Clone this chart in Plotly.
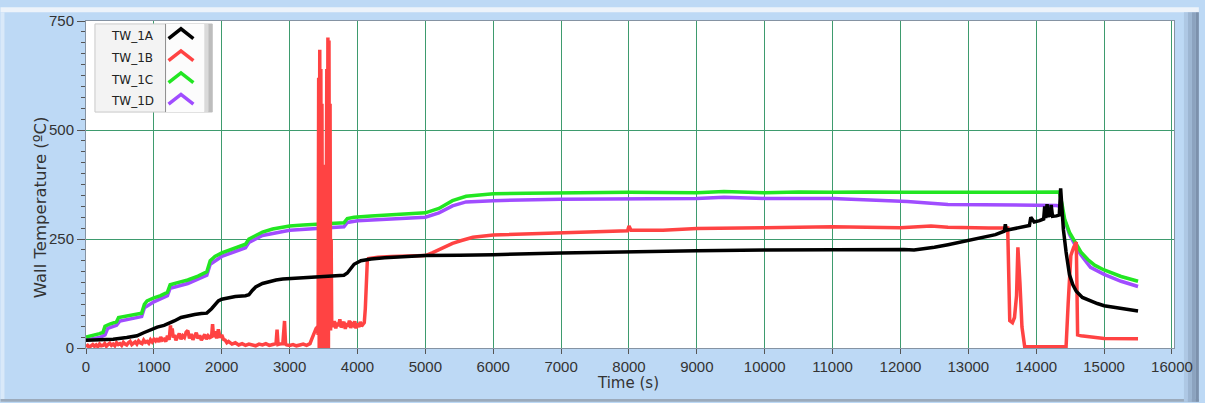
import plotly.graph_objects as go

# ---- wall temperature histories (time in s, temperature in degC) ----
series_names = ["TW_1A", "TW_1B", "TW_1C", "TW_1D"]
series_colors = ["#000000", "#FF4343", "#22E622", "#A04DFF"]

t_1a = [0, 200, 400, 600, 750, 850, 950, 1050, 1150, 1200, 1300, 1400, 1500, 1600, 1700, 1780,
        1850, 1900, 1950, 2000, 2100, 2200, 2350, 2400, 2450, 2500, 2600, 2700, 2800, 2900, 3000,
        3200, 3400, 3600, 3800, 3850, 3900, 3950, 4050, 4200, 4400, 4600, 5000, 5500, 6000, 7000,
        8000, 9000, 10000, 11000, 11900, 12050, 12200, 12320, 12500, 12700, 13000, 13200, 13400,
        13530, 13545, 13560, 13700, 13850, 13900, 13920, 13970, 14050, 14110, 14125, 14140, 14160,
        14175, 14190, 14205, 14220, 14240, 14300, 14340, 14360, 14375, 14400, 14440, 14490, 14540,
        14590, 14680, 14790, 14900, 15000, 15200, 15400, 15500]
tw_1a = [18, 18, 20, 24, 28, 35, 42, 48, 52, 55, 62, 70, 74, 77, 79, 80,
         90, 100, 108, 112, 116, 118, 120, 122, 132, 140, 148, 153, 156, 158, 159,
         161, 162, 164, 167, 172, 182, 192, 200, 204, 207, 209, 212, 213, 214, 218,
         221, 223, 225, 226, 227, 226, 225, 227, 231, 237, 246, 252, 260,
         268, 284, 270, 274, 279, 281, 300, 289, 292, 296, 325, 298, 330,
         300, 322, 301, 328, 302, 303, 305, 366, 330, 272, 220, 168, 145,
         130, 116, 108, 102, 97, 92, 88, 85]

# TW_1B: low noisy start, burst near 3500 s, dry-out after 13600 s
t_1b_start = [0, 25, 50, 75, 100, 125, 150, 175, 200, 225, 250, 275, 300, 325, 350, 375, 400,
              425, 450, 475, 500, 525, 550, 575, 600, 625, 650, 675, 700, 725, 750, 775, 800,
              825, 850, 875, 900, 925, 950, 975, 1000, 1025, 1050, 1075, 1100, 1125, 1150,
              1175, 1200, 1225, 1245, 1255, 1270, 1285, 1300, 1325, 1350, 1375, 1400, 1425,
              1450, 1475, 1500, 1525, 1550, 1575, 1600, 1625, 1650, 1675, 1700, 1725, 1750,
              1775, 1800, 1825, 1850, 1865, 1880, 1900, 1925, 1950, 1975, 2000, 2025, 2050,
              2075, 2100, 2150, 2200, 2250, 2300, 2350, 2400, 2450, 2500, 2550, 2600, 2650,
              2700, 2750, 2800, 2815, 2830, 2850, 2900, 2925, 2940, 2955, 3000, 3050, 3100,
              3150, 3200, 3250, 3300, 3330, 3360, 3390, 3410]
tw_1b_start = [3, 6, 2, 5, 8, 4, 7, 3, 9, 5, 6, 10, 4, 8, 11, 6, 9,
               5, 12, 8, 10, 6, 13, 9, 7, 12, 15, 8, 11, 14, 9, 16, 12,
               10, 18, 13, 15, 11, 19, 14, 20, 16, 22, 14, 25, 18, 20,
               15, 28, 19, 52, 30, 45, 24, 30, 18, 26, 33, 20, 28,
               24, 36, 40, 22, 32, 19, 27, 35, 22, 29, 18, 25, 31,
               20, 28, 24, 26, 55, 25, 38, 22, 43, 24, 30, 20, 18,
               12, 15, 9, 12, 7, 10, 6, 9, 8, 5, 9, 7, 10,
               6, 8, 10, 42, 8, 9, 10, 62, 9, 7, 6, 8, 5,
               7, 9, 6, 10, 22, 35, 45, 48]
t_1b_burst = [3420, 3428, 3436, 3444, 3452, 3460, 3468, 3476, 3484, 3492, 3500, 3508, 3516,
              3524, 3532, 3540, 3548, 3556, 3564, 3572, 3580, 3588, 3596, 3604, 3612, 3620]
tw_1b_burst = [30, 620, 0, 684, 20, 640, 0, 560, 120, 300, 0, 420, 60,
               130, 0, 380, 640, 20, 712, 0, 705, 90, 560, 40, 250, 60]
t_1b_after = [3640, 3660, 3680, 3700, 3720, 3740, 3760, 3780, 3800, 3820, 3840, 3860, 3880,
              3900, 3920, 3940, 3960, 3980, 4000, 4020, 4040, 4060, 4080, 4100, 4115, 4130,
              4145, 4160, 4300, 4500, 4800, 5000, 5100, 5230, 5400, 5520, 5700, 6000, 6500,
              7000, 7500, 7980, 8000, 8030, 8500, 9000, 10000, 11000, 12000, 12450, 12700,
              13000, 13300, 13580, 13600, 13610, 13650, 13680, 13710, 13730, 13760, 13790,
              13830, 14000, 14440, 14470, 14510, 14550, 14590, 14600, 14610, 14660, 15000, 15500]
tw_1b_after = [48, 62, 45, 58, 50, 66, 47, 55, 60, 44, 57, 49, 63,
               46, 55, 52, 61, 45, 56, 48, 60, 50, 54, 58, 90, 160,
               200, 205, 208, 210, 212, 212, 218, 227, 240, 246, 254, 259, 262,
               265, 267, 269, 280, 270, 270, 274, 276, 278, 276, 280, 277,
               275, 275, 275, 150, 63, 58, 70, 120, 231, 150, 48,
               3, 3, 3, 100, 212, 230, 243, 140, 30, 28, 22, 21]
t_1b = t_1b_start + t_1b_burst + t_1b_after
tw_1b = tw_1b_start + tw_1b_burst + tw_1b_after

t_1c = [0, 100, 200, 250, 280, 350, 450, 480, 550, 700, 820, 860, 900, 1000, 1100, 1200, 1240,
        1350, 1500, 1650, 1780, 1830, 1900, 2000, 2100, 2200, 2350, 2400, 2500, 2600, 2750, 2900,
        3000, 3200, 3500, 3700, 3800, 3850, 3950, 4200, 4500, 4800, 5000, 5200, 5400, 5600, 5800,
        6000, 6500, 7000, 8000, 9000, 9400, 10000, 10500, 11000, 11500, 12000, 12500, 13000,
        13500, 14000, 14340, 14380, 14420, 14490, 14560, 14660, 14760, 14860, 15000, 15250, 15500]
tw_1c = [25, 28, 33, 36, 50, 55, 60, 70, 72, 75, 80, 100, 108, 115, 120, 128, 145,
         150, 156, 165, 175, 200, 210, 218, 224, 230, 238, 250, 258, 266, 273, 278,
         280, 282, 284, 285, 287, 297, 300, 303, 305, 307, 310, 320, 338, 348, 352,
         354, 355, 356, 357, 356, 359, 356, 358, 357, 358, 357, 356, 357,
         357, 358, 358, 330, 295, 265, 246, 220, 203, 190, 179, 164, 153]

t_1d = [0, 100, 200, 280, 320, 450, 500, 820, 860, 1000, 1200, 1240, 1500, 1780, 1830, 2000,
        2350, 2400, 2600, 3000, 3500, 3800, 3850, 4000, 4500, 5000, 5200, 5400, 5600, 6000, 7000,
        8000, 9000, 9400, 10000, 11000, 11600, 12100, 12700, 13100, 13700, 14300, 14350, 14400,
        14490, 14560, 14660, 14800, 15000, 15250, 15500]
tw_1d = [18, 20, 24, 30, 45, 52, 62, 72, 92, 106, 120, 137, 148, 167, 192, 210,
         230, 242, 258, 270, 274, 278, 288, 292, 296, 300, 310, 326, 335, 338, 341,
         343, 343, 346, 343, 343, 340, 336, 329, 329, 327, 327, 325, 300,
         261, 240, 213, 185, 169, 153, 141]

x_ticks = list(range(0, 16001, 1000))
y_ticks = [0, 250, 500, 750]

series_t = [t_1a, t_1b, t_1c, t_1d]
series_v = [tw_1a, tw_1b, tw_1c, tw_1d]

# ---- figure geometry (pixels) ----
W, H = 1205, 403
L, R, T, B = 86, 25, 14, 55
PW, PH = W - L - R, H - T - B


def px(x):
    return (x - L) / PW


def py(y):
    return (H - B - y) / PH


fig = go.Figure()

# drawing order: TW_1D, TW_1C, TW_1B, TW_1A (black on top)
for i in [3, 2, 1, 0]:
    fig.add_trace(go.Scatter(
        x=series_t[i], y=series_v[i], mode="lines", name=series_names[i],
        line=dict(color=series_colors[i], width=3.5), showlegend=False,
    ))

tick_font = dict(family="Liberation Sans, Arial, sans-serif", size=15, color="#333333")
grid_col = "#3E9B6E"

fig.update_xaxes(
    range=[0, 16030], tickmode="array", tickvals=x_ticks, ticktext=[str(v) for v in x_ticks],
    showgrid=True, gridcolor=grid_col, gridwidth=1,
    ticks="outside", ticklen=5, tickcolor="#555555",
    showline=True, linecolor="#8593A3", linewidth=1, mirror=True,
    zeroline=False, tickfont=tick_font,
)
fig.update_yaxes(
    range=[0, 750], tickmode="array", tickvals=y_ticks, ticktext=[str(v) for v in y_ticks],
    showgrid=True, gridcolor=grid_col, gridwidth=1,
    ticks="outside", ticklen=8, tickcolor="#555555",
    minor=dict(dtick=25, tick0=0, ticks="outside", ticklen=4, tickcolor="#555555", showgrid=False),
    showline=True, linecolor="#8593A3", linewidth=1, mirror=True,
    zeroline=False, tickfont=tick_font,
)

shapes = []
# panel decorations
shapes.append(dict(type="rect", xref="paper", yref="paper", layer="below",
                   x0=px(0), x1=px(W), y0=py(5), y1=py(0),
                   fillcolor="#EDF3FA", line=dict(width=0)))
shapes.append(dict(type="rect", xref="paper", yref="paper", layer="below",
                   x0=px(0), x1=px(4), y0=py(H), y1=py(5),
                   fillcolor="#D9E9F9", line=dict(width=0)))
shapes.append(dict(type="rect", xref="paper", yref="paper", layer="below",
                   x0=px(0), x1=px(W), y0=py(H), y1=py(400),
                   fillcolor="#9BAABB", line=dict(width=0)))
for x0, x1, col in [(1190, 1194, "#AEC8E4"), (1194, 1198, "#9DB6D2"),
                    (1198, 1202, "#8CA3BF"), (1202, 1205, "#7C91AC")]:
    shapes.append(dict(type="rect", xref="paper", yref="paper", layer="below",
                       x0=px(x0), x1=px(x1), y0=py(H), y1=py(5),
                       fillcolor=col, line=dict(width=0)))

# legend box
LX0, LX1, LY0, LY1, SX = 95, 213, 17, 107, 166
shapes.append(dict(type="rect", xref="paper", yref="paper",
                   x0=px(LX0), x1=px(LX1), y0=py(LY1), y1=py(LY0),
                   fillcolor="#F3F3F3", line=dict(color="#C9C9C9", width=1)))
shapes.append(dict(type="rect", xref="paper", yref="paper",
                   x0=px(SX), x1=px(205), y0=py(LY1), y1=py(LY0),
                   fillcolor="#FCFCFC", line=dict(width=0)))
for x0, x1, col in [(205, 209, "#DADADA"), (209, 213, "#BDBDBD")]:
    shapes.append(dict(type="rect", xref="paper", yref="paper",
                       x0=px(x0), x1=px(x1), y0=py(LY1), y1=py(LY0),
                       fillcolor=col, line=dict(width=0)))
shapes.append(dict(type="line", xref="paper", yref="paper",
                   x0=px(SX), x1=px(SX), y0=py(LY1), y1=py(LY0),
                   line=dict(color="#8C8C8C", width=1)))

annotations = []
row_y = [29, 51.5, 74, 96]
for i, name in enumerate(series_names):
    cy = row_y[i]
    path = "M {:.5f},{:.5f} L {:.5f},{:.5f} L {:.5f},{:.5f}".format(
        px(169), py(cy + 3), px(181.5), py(cy - 7), px(194), py(cy + 3))
    shapes.append(dict(type="path", xref="paper", yref="paper", path=path,
                       line=dict(color=series_colors[i], width=3.5)))
    annotations.append(dict(x=px(109), y=py(cy), xref="paper", yref="paper",
                            text=name, showarrow=False, xanchor="left", yanchor="middle",
                            font=dict(family="DejaVu Sans, sans-serif", size=12, color="#222222")))

annotations.append(dict(x=px(631), y=py(384), xref="paper", yref="paper", text="Time (s)",
                        showarrow=False, xanchor="center", yanchor="middle",
                        font=dict(family="DejaVu Sans, sans-serif", size=15, color="#333333")))
annotations.append(dict(x=px(40), y=py(204), xref="paper", yref="paper",
                        text="Wall Temperature (ºC)", textangle=-90,
                        showarrow=False, xanchor="center", yanchor="middle",
                        font=dict(family="DejaVu Sans, sans-serif", size=16.5, color="#333333")))

fig.update_layout(
    width=W, height=H,
    margin=dict(l=L, r=R, t=T, b=B),
    paper_bgcolor="#BDD9F5", plot_bgcolor="#FFFFFF",
    shapes=shapes, annotations=annotations, showlegend=False,
)

fig.write_html("out.html", config={"displayModeBar": False})
